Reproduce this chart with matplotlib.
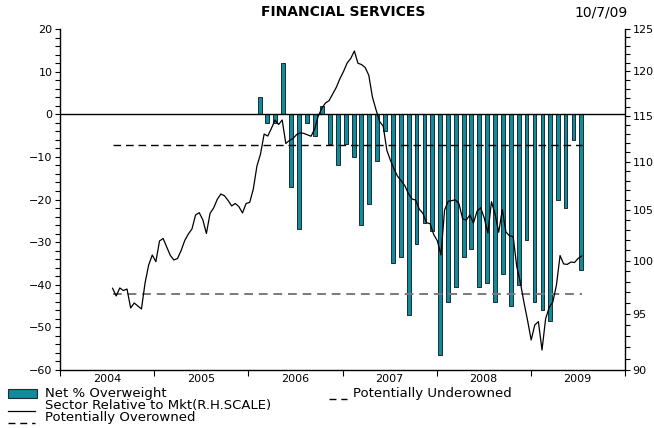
import matplotlib
matplotlib.use('Agg')
import matplotlib.pyplot as plt
import matplotlib.dates as mdates
import pandas as pd
from matplotlib.patches import Rectangle
from matplotlib.lines import Line2D
from matplotlib.ticker import FixedLocator, MultipleLocator, NullFormatter, FixedFormatter

plt.rcParams['font.family'] = ['DejaVu Sans']

# ---------------- data ----------------
bar_first_month = '2006-02-01'
net_overweight = [4, -2, -2, 12, -17, -27, -2, -5, 2, -7,
                  -12, -7, -10, -26, -21, -11, -4, -35, -33.5, -47,
                  -30.5, -25.5, -27.5, -56.5, -44, -40.5, -33.5, -31.5, -40.5, -39.5,
                  -44, -37.5, -45, -40, -29.5, -44, -46, -48.5, -20, -22,
                  -6, -36.5]

line_first_date = '2004-07-23'
line_step = '14D'
sector_relative = [
    97.37, 96.65, 97.40, 97.16, 97.30, 95.54, 96.00, 95.73, 95.45, 97.87,
    99.58, 100.54, 99.90, 101.91, 102.16, 101.32, 100.50, 100.06, 100.21, 100.98,
    101.96, 102.60, 103.10, 104.50, 104.73, 104.02, 102.65, 104.65, 105.20, 106.07,
    106.63, 106.45, 105.97, 105.41, 105.66, 105.34, 104.70, 105.66, 105.77, 107.14,
    109.54, 110.82, 112.97, 112.75, 113.57, 114.51, 114.01, 114.51, 111.95, 112.27,
    112.48, 112.92, 113.10, 113.04, 112.88, 112.73, 113.52, 114.95, 115.82, 116.40,
    116.67, 117.43, 118.17, 119.16, 119.99, 120.97, 121.50, 122.38, 120.94, 120.79,
    120.45, 119.55, 117.08, 115.65, 114.35, 113.82, 111.22, 110.15, 109.23, 108.45,
    107.98, 107.48, 106.65, 106.12, 106.00, 105.08, 104.66, 103.72, 103.62, 102.54,
    101.92, 100.55, 105.00, 105.88, 105.95, 106.03, 105.63, 104.11, 103.99, 104.50,
    103.69, 104.87, 105.23, 104.19, 102.70, 105.84, 104.57, 102.77, 105.04, 102.80,
    102.41, 102.35, 99.45, 97.92, 96.05, 94.40, 92.64, 93.99, 94.29, 91.75,
    94.55, 95.60, 96.10, 97.68, 100.49, 99.68, 99.64, 99.86, 99.82, 100.21,
    100.45]

overowned_level = -7.2
underowned_level = -42.2

left_ticks = [-60, -50, -40, -30, -20, -10, 0, 10, 20]
right_ticks = [90, 95, 100, 105, 110, 115, 120, 125]

title = 'FINANCIAL SERVICES'
date_label = '10/7/09'
legend_labels = ['Net % Overweight', 'Potentially Underowned',
                 'Sector Relative to Mkt(R.H.SCALE)', 'Potentially Overowned']

# ---------------- derived ----------------
bar_dates = pd.date_range(bar_first_month, periods=len(net_overweight), freq='MS') + pd.Timedelta(days=14)
line_dates = pd.date_range(line_first_date, periods=len(sector_relative), freq=line_step)

TEAL = '#13899c'
EDGE = '#1b2d31'
W, H = 654, 428

fig = plt.figure(figsize=(W / 100, H / 100), dpi=100)
ax = fig.add_axes([60 / W, 58 / H, 565 / W, 341 / H])

ax.bar(bar_dates, net_overweight, width=15, color=TEAL, edgecolor=EDGE,
       linewidth=0.7, zorder=2)
ax.axhline(0, color='black', lw=1.0, zorder=3)
ax.plot([line_dates[0], line_dates[-1]], [overowned_level] * 2, color='black',
        lw=1.0, linestyle=(0, (5.5, 3.5)), zorder=3)
ax.plot([line_dates[0], line_dates[-1]], [underowned_level] * 2, color='#7a7a7a',
        lw=1.4, linestyle=(0, (4.5, 3.0)), zorder=3)

ax.set_ylim(-60, 20)
ax.set_xlim(pd.Timestamp('2004-01-01'), pd.Timestamp('2010-01-01'))
ax.yaxis.set_major_locator(FixedLocator(left_ticks))
ax.yaxis.set_minor_locator(MultipleLocator(2))
ax.tick_params(axis='y', which='both', direction='out', length=3.5, width=0.8,
               labelsize=8, pad=2)

ax.xaxis.set_major_locator(mdates.YearLocator())
ax.xaxis.set_major_formatter(NullFormatter())
ax.xaxis.set_minor_locator(mdates.MonthLocator(bymonth=7))
ax.xaxis.set_minor_formatter(mdates.DateFormatter('%Y'))
ax.tick_params(axis='x', which='major', direction='out', length=4, width=0.8)
ax.tick_params(axis='x', which='minor', length=0, labelsize=8, pad=3)

for s in ['top', 'right']:
    ax.spines[s].set_visible(False)
ax.spines['left'].set_linewidth(1.0)
ax.spines['bottom'].set_linewidth(1.0)

ax2 = ax.twinx()
ax2.plot(line_dates, sector_relative, color='black', lw=0.9, zorder=4)
ax2.set_yscale('log')
ax2.set_ylim(90, 125)
ax2.yaxis.set_major_locator(FixedLocator(right_ticks))
ax2.yaxis.set_major_formatter(FixedFormatter([str(t) for t in right_ticks]))
ax2.yaxis.set_minor_locator(FixedLocator(list(range(90, 126))))
ax2.yaxis.set_minor_formatter(NullFormatter())
ax2.tick_params(axis='y', which='both', direction='out', length=3.5, width=0.8,
                labelsize=8, pad=2)
for s in ['top', 'left', 'bottom']:
    ax2.spines[s].set_visible(False)
ax2.spines['right'].set_linewidth(1.0)

# ---------------- titles ----------------
fig.text(343 / W, 1 - 12 / H, title, ha='center', va='center',
         fontsize=10, fontweight='bold')
fig.text(601 / W, 1 - 12 / H, date_label, ha='center', va='center', fontsize=10)

# ---------------- legend (manual) ----------------
def fx(x):
    return x / W

def fy(y):
    return 1 - y / H

LEG_FS = 9.5
fig.add_artist(Rectangle((fx(8), fy(398)), 29 / W, 9 / H, transform=fig.transFigure,
                         facecolor=TEAL, edgecolor=EDGE, linewidth=0.8))
fig.text(fx(45), fy(393.5), legend_labels[0], ha='left', va='center', fontsize=LEG_FS)

fig.add_artist(Line2D([fx(329), fx(347)], [fy(398.5)] * 2, transform=fig.transFigure,
                      color='black', lw=1.0, linestyle=(0, (5, 3.5))))
fig.text(fx(353), fy(393.5), legend_labels[1], ha='left', va='center', fontsize=LEG_FS)

fig.add_artist(Line2D([fx(8), fx(35)], [fy(410.5)] * 2, transform=fig.transFigure,
                      color='black', lw=0.9))
fig.text(fx(45), fy(405.5), legend_labels[2], ha='left', va='center', fontsize=LEG_FS)

fig.add_artist(Line2D([fx(8), fx(35)], [fy(422.5)] * 2, transform=fig.transFigure,
                      color='black', lw=1.0, linestyle=(0, (5, 3.5))))
fig.text(fx(45), fy(417.5), legend_labels[3], ha='left', va='center', fontsize=LEG_FS)

fig.savefig('out.png', dpi=100)
